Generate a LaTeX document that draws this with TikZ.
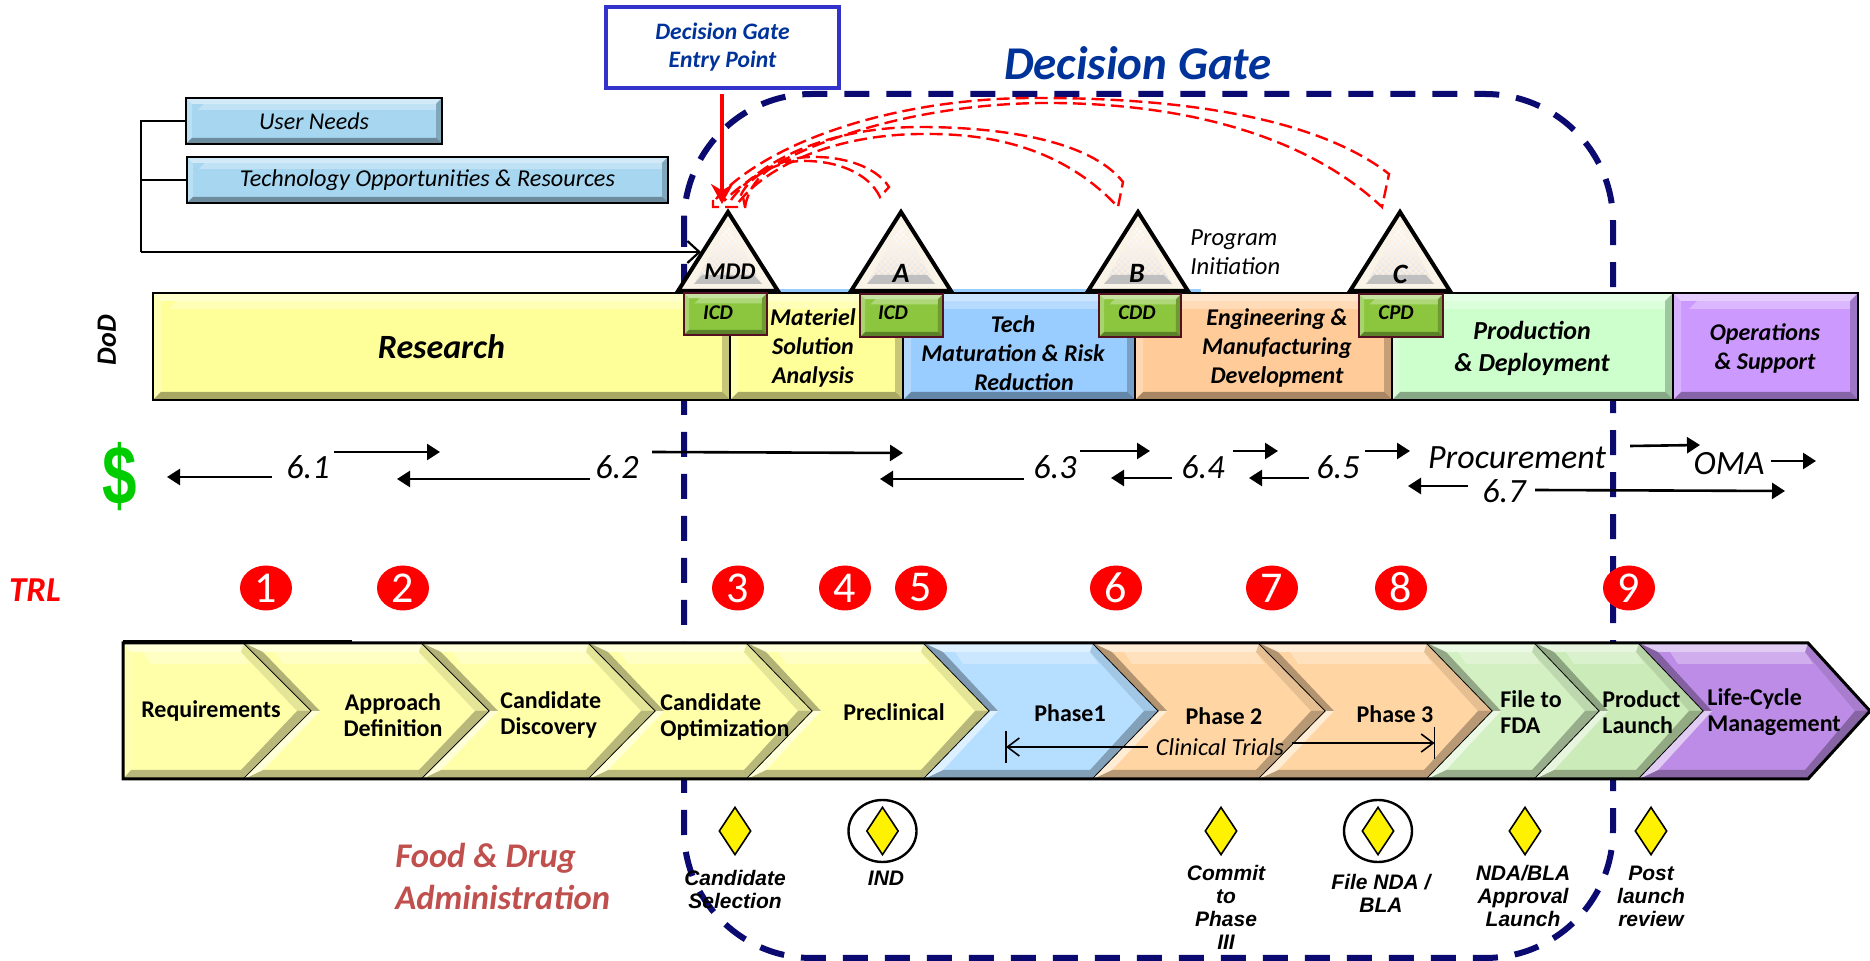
\documentclass[tikz,border=0pt]{standalone}
\usepackage{fontspec}
\usepackage{graphicx}
\setmainfont{Carlito}
\newfontfamily\arialfont{Liberation Sans}
\usetikzlibrary{arrows.meta, calc, shapes.geometric, patterns}
\newcommand{\fsz}[2]{\fontsize{#1pt}{#2pt}\selectfont}
\definecolor{gateblue}{HTML}{003399}
\definecolor{gatenavy}{HTML}{0A0A70}
\definecolor{cyellow}{HTML}{FFFFAA}
\definecolor{cblue}{HTML}{B5DEFF}
\definecolor{corange}{HTML}{FFD5A3}
\definecolor{cgreen}{HTML}{D3F0C2}
\definecolor{cgreenb}{HTML}{CBEBB8}
\definecolor{cpurple}{HTML}{BC8CE6}
\definecolor{barpale}{HTML}{FFFF99}
\definecolor{bartech}{HTML}{99CCFF}
\definecolor{bareng}{HTML}{FFCC99}
\definecolor{barprod}{HTML}{CCFFCC}
\definecolor{barops}{HTML}{CC99FF}
\definecolor{needsblue}{HTML}{A6D6F0}
\definecolor{docgreen}{HTML}{8CC63F}
\tikzset{
  sz/.style 2 args={minimum width=#1*0.5pt, minimum height=#2*0.5pt},
  bevelbox/.style 2 args={rectangle, draw=black, line width=1.4pt, fill=#1, inner sep=0pt,
    path picture={
      \coordinate (nw) at (path picture bounding box.north west);
      \coordinate (ne) at (path picture bounding box.north east);
      \coordinate (se) at (path picture bounding box.south east);
      \coordinate (sw) at (path picture bounding box.south west);
      \fill[white, opacity=.5] (nw) -- (ne) -- ($(ne)+(-#2,-#2)$) -- ($(nw)+(#2,-#2)$) -- cycle;
      \fill[white, opacity=.25] (nw) -- (sw) -- ($(sw)+(#2,#2)$) -- ($(nw)+(#2,-#2)$) -- cycle;
      \fill[black, opacity=.22] (ne) -- (se) -- ($(se)+(-#2,#2)$) -- ($(ne)+(-#2,-#2)$) -- cycle;
      \fill[black, opacity=.34] (sw) -- (se) -- ($(se)+(-#2,#2)$) -- ($(sw)+(#2,#2)$) -- cycle;
      \fill[white, opacity=.3] ($(nw)+(3*#2,-#2)$) -- ($(ne)+(-#2,-#2)$) -- ($(ne)+(-#2,-2*#2)$) -- ($(nw)+(2*#2,-2*#2)$) -- cycle;
    }},
  iconbox/.style={bevelbox={#1}{2.6pt}, draw={rgb,255:red,85;green,15;blue,35}, line width=1.2pt},
  barlabel/.style={font=\bfseries\itshape\fsz{12}{14.5}, align=center, inner sep=0pt},
  chevlabel/.style={font=\bfseries\fsz{12}{13}, align=#1, inner sep=0pt},
  chevlabel/.default=center,
  fdalabel/.style={font=\arialfont\bfseries\itshape\fsz{10.5}{11.5}, align=center, inner sep=0pt},
  fundlabel/.style={font=\itshape\fsz{#1}{#1}, inner sep=0pt},
  fundlabel/.default=17,
  fund/.style={line width=1.3pt, -{Triangle[length=6.5pt,width=8pt]}},
  gatearc/.style={red, line width=1.2pt, dash pattern=on 6.5pt off 3pt},
  trlmark/.style={ellipse, fill=red, sz={52}{45}, inner sep=0pt, text=white, font=\fsz{22}{22}},
  milestone/.style={diamond, draw=black, line width=.8pt, fill=yellow, sz={32}{48}, inner sep=0pt},
  mring/.style={ellipse, draw=black, line width=1.2pt, sz={68}{62}},
  link/.style={line width=1.1pt},
}
\begin{document}
\begin{tikzpicture}[x=0.5pt, y=-0.5pt]
\useasboundingbox (0,0) rectangle (1870,961);
% Decision gate outline
\draw[gatenavy, line width=3pt, dash pattern=on 12.5pt off 8.5pt, rounded corners=64pt] (684,94) rectangle (1613,958);
\node[font=\bfseries\itshape\fsz{23.5}{24}, text=gateblue, inner sep=0pt] (gatetitle) at (1138,63) {Decision Gate};
\node[draw={rgb,255:red,51;green,51;blue,204}, line width=2pt, fill=white, sz={233}{81}, inner sep=0pt,
  font=\bfseries\itshape\fsz{11.8}{14}, text=gateblue, align=center] (gatebox) at (722.5,47.5) {Decision Gate\\Entry Point};
% Needs
\node[bevelbox={needsblue}{3pt}, draw=black, sz={256}{46}, font=\itshape\fsz{12}{12}] (needs) at (314,121) {User Needs};
\node[bevelbox={needsblue}{3pt}, draw=black, sz={481}{46}, font=\itshape\fsz{12.1}{12}] (techres) at (427.5,180) {Technology Opportunities \& Resources};
\coordinate (brk) at (141,252);
\coordinate (mddin) at (701,252);
\draw[link] (needs.west) -| (brk);
\draw[link] (techres.west) -- (techres.west -| brk);
\draw[link, -{Straight Barb[length=6pt,width=11pt]}] (brk) -- (mddin);
% DoD bars
\fill[bartech] (775,289) rectangle (1201,294);
\node[bevelbox={barpale}{4pt}, sz={577}{107}, font=\bfseries\itshape\fsz{17}{18}] (research) at (441.5,346.5) {Research};
\node[bevelbox={barpale}{4pt}, sz={173}{107}] (materiel) at (816.5,346.5) {};
\node[bevelbox={bartech}{4pt}, sz={232}{107}] (techmat) at (1019,346.5) {};
\node[bevelbox={bareng}{4pt}, sz={257}{107}] (engdev) at (1263.5,346.5) {};
\node[bevelbox={barprod}{4pt}, sz={281}{107}] (prod) at (1532.5,346.5) {};
\node[bevelbox={barops}{4pt}, sz={185}{107}] (ops) at (1765.5,346.5) {};
\node[font=\bfseries\itshape\fsz{14}{14}, rotate=90, inner sep=0pt] (dod) at (107,340) {DoD};
\node[barlabel] (materieltxt) at (813,348) {Materiel\\Solution\\Analysis};
\node[barlabel] (techmattxt) at (1013,353.5) {Tech\\Maturation \& Risk\\\hspace*{11pt}Reduction};
\node[barlabel] (engdevtxt) at (1277,347.5) {Engineering \&\\Manufacturing\\Development};
\node[barlabel, font=\bfseries\itshape\fsz{13}{16}] (prodtxt) at (1532,348) {Production\\\& Deployment};
\node[barlabel] (opstxt) at (1765,348) {Operations\\\& Support};
% Triangles
\foreach \xa in {728, 901, 1138, 1400} {
  \draw[black, line width=2pt, miter limit=10, fill={rgb,255:red,250;green,243;blue,232}] (\xa-50,291) -- (\xa,212) -- (\xa+50,291) -- cycle;
  \shade[top color=white, bottom color=black!12] (\xa,225) -- (\xa+34,284) -- (\xa-34,284) -- cycle;
  \fill[pattern=crosshatch, pattern color=orange!12] (\xa,225) -- (\xa+34,284) -- (\xa-34,284) -- cycle;
  \fill[black!25] (\xa-34,284) -- (\xa-26,275) -- (\xa+26,275) -- (\xa+34,284) -- cycle;
}
\node[font=\bfseries\itshape\fsz{12}{12}, inner sep=0pt] (mdd) at (730,272) {MDD};
\node[font=\bfseries\itshape\fsz{14}{14}, inner sep=0pt] (ma) at (901,273) {A};
\node[font=\bfseries\itshape\fsz{14}{14}, inner sep=0pt] (mb) at (1137,273) {B};
\node[font=\bfseries\itshape\fsz{14}{14}, inner sep=0pt] (mc) at (1400,274) {C};
\node[font=\itshape\fsz{12.3}{14.5}, align=left, anchor=west, inner sep=0pt] (prog) at (1190,252.5) {Program\\Initiation};
% Documents
\node[iconbox={docgreen}, sz={83}{42}] (icda) at (725.5,314) {};
\node[iconbox={docgreen}, sz={83}{43}] (icdb) at (901.5,315.5) {};
\node[iconbox={docgreen}, sz={82}{43}] (cdd) at (1140,315.5) {};
\node[iconbox={docgreen}, sz={84}{43}] (cpd) at (1401,315.5) {};
\foreach \n/\xa/\txt in {a/718/ICD, b/893/ICD, c/1137/CDD, d/1396/CPD} {
  \node[font=\bfseries\itshape\fsz{10.5}{10}, inner sep=0pt] (doc\n) at (\xa,313) {\txt};
}
% Gate review arcs
\draw[gatearc] (713,200) -- (713,207) -- (745,207) -- (743,197);
\draw[gatearc] (745,207) .. controls (750,178) and (775,158) .. (810,157) .. controls (840,156) and (875,165) .. (889,187) -- (880,197) .. controls (868,172) and (835,160) .. (800,161) .. controls (770,163) and (745,180) .. (739,200);
\draw[gatearc] (731,200) .. controls (760,160) and (830,127) .. (920,127) .. controls (1000,127) and (1090,140) .. (1123,182) -- (1118,207) .. controls (1060,145) and (985,133) .. (920,134) .. controls (830,135) and (765,168) .. (738,203);
\draw[gatearc] (716,199) .. controls (770,140) and (900,97) .. (1040,98) .. controls (1190,98) and (1320,120) .. (1389,174) -- (1382,207) .. controls (1300,130) and (1170,102) .. (1040,103) .. controls (900,105) and (775,150) .. (724,201);
\coordinate (gatein) at (722,204);
\draw[red, line width=1.8pt, -{Stealth[length=10pt,width=11pt]}] (gatebox.south) ++(-0.5,4) -- (gatein);
% Funding
\node[font=\arialfont\bfseries\fsz{31}{31}, text={rgb,255:red,0;green,204;blue,0}, inner sep=0pt] (dollar) at (120,477) {\scalebox{1}[1.35]{\$}};
\foreach \n/\xa/\txt in {a/308/6.1, b/617/6.2, c/1055/6.3, d/1203/6.4, e/1338/6.5} {
  \node[fundlabel] (fund\n) at (\xa,467) {\txt};
}
\node[fundlabel] (procure) at (1517,458) {Procurement};
\node[fundlabel] (fundf) at (1504,491) {6.7};
\node[fundlabel] (oma) at (1729,464) {OMA};
\foreach \n/\xa/\ya/\xb/\yb in {1/272/477/167/477, 2/334/452/440/452, 3/590/479/397/479, 4/652/452/903/453,
  5/1024/479/880/479, 6/1080/451/1150/451, 7/1172/478/1111/478, 8/1233/451/1278/451, 9/1309/478/1249/478,
  10/1365/451/1410/451, 11/1468/486/1408/486, 12/1535/490/1785/491, 13/1630/446/1700/445, 14/1771/461/1816/461} {
  \coordinate (fa\n) at (\xa,\ya);
  \coordinate (fb\n) at (\xb,\yb);
  \draw[fund] (fa\n) -- (fb\n);
}
% TRL
\node[font=\bfseries\itshape\fsz{17.5}{17.5}, text=red, inner sep=0pt] (trl) at (35,590) {TRL};
\foreach \n/\xa in {1/266, 2/403, 3/738, 4/845, 5/921, 6/1116, 7/1272, 8/1401, 9/1629} {
  \node[trlmark] (trl\n) at (\xa,588) {\n};
}
% Chevrons
\foreach \xs/\xn/\xo/\xh/\xt/\col in {123/123/8/244/312/cyellow, 244/312/19/422/490/cyellow, 422/490/19/589/656/cyellow,
  589/656/19/747/813/cyellow, 747/813/19/924/990/cyellow, 924/990/19/1093/1159/cblue, 1093/1159/19/1259/1326/corange,
  1259/1326/19/1427/1493/corange, 1427/1493/19/1535/1600/cgreen, 1535/1600/19/1639/1704/cgreenb, 1639/1704/19/1808/1870/cpurple} {
  \ifnum\xs=123 \def\upop{.1}\def\lowop{.1}\def\upcol{white}\else\def\upop{.3}\def\lowop{.55}\def\upcol{black}\fi
  \fill[\col] (\xs,643) -- (\xh,643) -- (\xt,711) -- (\xh,779) -- (\xs,779) -- (\xn,711) -- cycle;
  \fill[white, opacity=.55] (\xs,643) -- (\xh,643) -- (\xh-3,652) -- (\xs+\xo,652) -- cycle;
  \fill[white, opacity=.3] (\xs+\xo+12,652) -- (\xh-3,652) -- (\xh+5,664) -- (\xs+\xo+20,664) -- cycle;
  \fill[black, opacity=.1] (\xh,643) -- (\xt,711) -- (\xt-15,711) -- (\xh-3,652) -- cycle;
  \fill[black, opacity=.28] (\xh,779) -- (\xt,711) -- (\xt-15,711) -- (\xh-3,770) -- cycle;
  \fill[black, opacity=.28] (\xs,779) -- (\xh,779) -- (\xh-3,770) -- (\xs+\xo,770) -- cycle;
  \fill[\upcol, opacity=\upop] (\xs,643) -- (\xn,711) -- (\xn+8,711) -- (\xs+\xo,652) -- cycle;
  \fill[white, opacity=\lowop] (\xs,779) -- (\xn,711) -- (\xn+8,711) -- (\xs+\xo,770) -- cycle;
  \draw[black, line width=1pt, line join=miter] (\xh,643) -- (\xt,711) -- (\xh,779);
}
\draw[black, line width=1.5pt] (123,643) -- (1808,643) -- (1870,711) -- (1808,779) -- (123,779) -- cycle;
\draw[black, line width=2pt] (123,642) -- (352,642);
\node[chevlabel] (creq) at (211,711) {Requirements};
\node[chevlabel] (capp) at (393,715) {Approach\\Definition};
\node[chevlabel=left, anchor=west] (cdis) at (500,715) {Candidate\\Discovery};
\node[chevlabel=left, anchor=west] (copt) at (660,717) {Candidate\\Optimization};
\node[chevlabel] (cpre) at (894,712) {Preclinical};
\node[chevlabel] (cph1) at (1070,713) {Phase1};
\node[chevlabel] (cph2) at (1224,716) {Phase 2};
\node[chevlabel] (cph3) at (1395,714) {Phase 3};
\node[chevlabel=left, anchor=west] (cfda) at (1500,712) {File to\\FDA};
\node[chevlabel=left, anchor=west] (clau) at (1602,712) {Product\\Launch};
\node[chevlabel=left, anchor=west] (clif) at (1707,712) {Life-Cycle\\Management};
% Clinical trials span
\node[font=\itshape\fsz{12.2}{12}, inner sep=0pt] (clin) at (1220,747) {Clinical Trials};
\coordinate (spanl) at (1006,747);
\coordinate (spanr) at (1434.5,743);
\draw[link, line width=.8pt] (1006,731) -- (1006,763);
\draw[link, line width=.8pt] (1434.5,727) -- (1434.5,759);
\draw[line width=.8pt, -{Straight Barb[length=6pt,width=9pt]}] (clin.west) ++(-8,0) -- (spanl);
\draw[line width=.8pt, -{Straight Barb[length=6pt,width=9pt]}] (clin.east) ++(8,-4) -- (spanr);
% FDA
\node[font=\bfseries\itshape\fsz{17.3}{21}, text={rgb,255:red,192;green,80;blue,77}, align=left, anchor=west, inner sep=0pt] (fda) at (395,876) {Food \& Drug\\Administration};
\node[mring] (ringind) at (882.5,831) {};
\node[mring] (ringnda) at (1378,831) {};
\foreach \n/\xa in {a/735, b/882.5, c/1221, d/1378, e/1525, f/1651} {
  \node[milestone] (mile\n) at (\xa,831) {};
}
\node[fdalabel] (candsel) at (735,889.5) {Candidate\\Selection};
\node[fdalabel] (ind) at (886,878) {IND};
\node[fdalabel] (commit) at (1226,907.5) {Commit\\to\\Phase\\III};
\node[fdalabel] (filenda) at (1381,893.5) {File NDA /\\BLA};
\node[fdalabel] (appr) at (1523,896) {NDA/BLA\\Approval\\Launch};
\node[fdalabel] (post) at (1651,896) {Post\\launch\\review};
\end{tikzpicture}
\end{document}
